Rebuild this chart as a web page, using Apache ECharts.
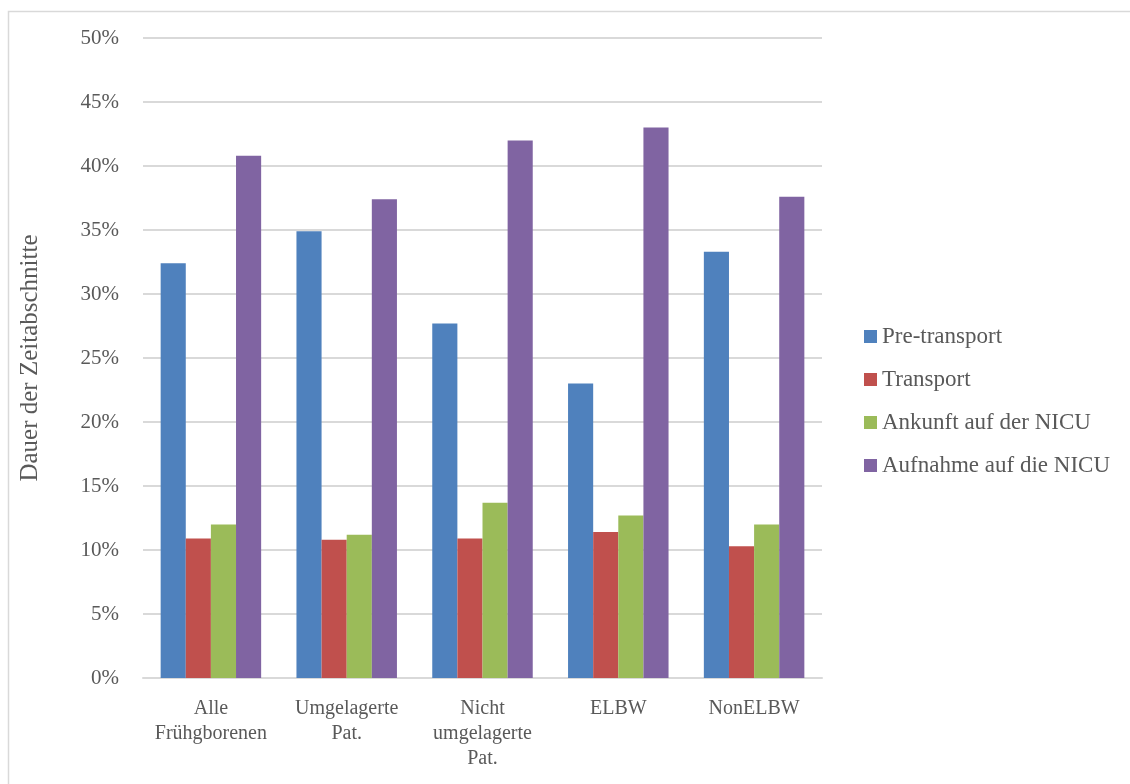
<!DOCTYPE html>
<html>
<head>
<meta charset="utf-8">
<script src="https://cdn.jsdelivr.net/npm/echarts@6/dist/echarts.min.js"></script>
<style>
  html, body { margin: 0; padding: 0; background: #ffffff; }
  #chart { width: 1130px; height: 784px; }
</style>
</head>
<body>
<div id="chart"></div>
<script>
// Patient groups on the x axis
const categories = ['Alle\nFrühgborenen', 'Umgelagerte\nPat.', 'Nicht\numgelagerte\nPat.', 'ELBW', 'NonELBW'];
// Share of total duration per time segment (%)
const preTransport = [32.4, 34.9, 27.7, 23.0, 33.3];
const transport = [10.9, 10.8, 10.9, 11.4, 10.3];
const ankunft = [12.0, 11.2, 13.7, 12.7, 12.0];
const aufnahme = [40.8, 37.4, 42.0, 43.0, 37.6];
const seriesNames = ['Pre-transport', 'Transport', 'Ankunft auf der NICU', 'Aufnahme auf die NICU'];
const colors = ['#4F81BD', '#C0504D', '#9BBB59', '#8064A2'];

const font = "'Liberation Serif', 'DejaVu Serif', serif";
const textColor = '#595959';

const chart = echarts.init(document.getElementById('chart'), null, { renderer: 'canvas' });

const seriesData = [preTransport, transport, ankunft, aufnahme];

chart.setOption({
  animation: false,
  backgroundColor: '#ffffff',
  color: colors,
  graphic: [{
    type: 'rect',
    shape: { x: 8.5, y: 11.5, width: 1200, height: 900 },
    style: { fill: 'none', stroke: '#D9D9D9', lineWidth: 1.5 },
    silent: true,
    z: -10
  }],
  grid: { left: 143, right: 308, top: 38, bottom: 106, containLabel: false },
  legend: {
    orient: 'vertical',
    left: 859,
    top: 320,
    itemWidth: 13,
    itemHeight: 13,
    itemGap: 20,
    icon: 'rect',
    data: seriesNames,
    textStyle: { fontFamily: font, fontSize: 23, color: textColor, padding: [0, 0, 0, 0] }
  },
  xAxis: {
    type: 'category',
    data: categories,
    axisLine: { show: true, lineStyle: { color: '#D9D9D9', width: 2 } },
    axisTick: { show: false },
    axisLabel: {
      interval: 0,
      margin: 18,
      fontFamily: font,
      fontSize: 20,
      lineHeight: 25,
      color: textColor
    }
  },
  yAxis: {
    type: 'value',
    min: 0,
    max: 50,
    interval: 5,
    name: 'Dauer der Zeitabschnitte',
    nameLocation: 'middle',
    nameGap: 100,
    nameTextStyle: { fontFamily: font, fontSize: 25, color: textColor },
    axisLine: { show: false },
    axisTick: { show: false },
    axisLabel: {
      formatter: '{value}%',
      margin: 24,
      fontFamily: font,
      fontSize: 21,
      color: textColor
    },
    splitLine: { lineStyle: { color: '#D9D9D9', width: 2 } }
  },
  series: seriesNames.map((name, i) => ({
    name: name,
    type: 'bar',
    data: seriesData[i],
    barGap: '0%',
    barCategoryGap: '26%',
    itemStyle: { color: colors[i] }
  }))
});
</script>
</body>
</html>
